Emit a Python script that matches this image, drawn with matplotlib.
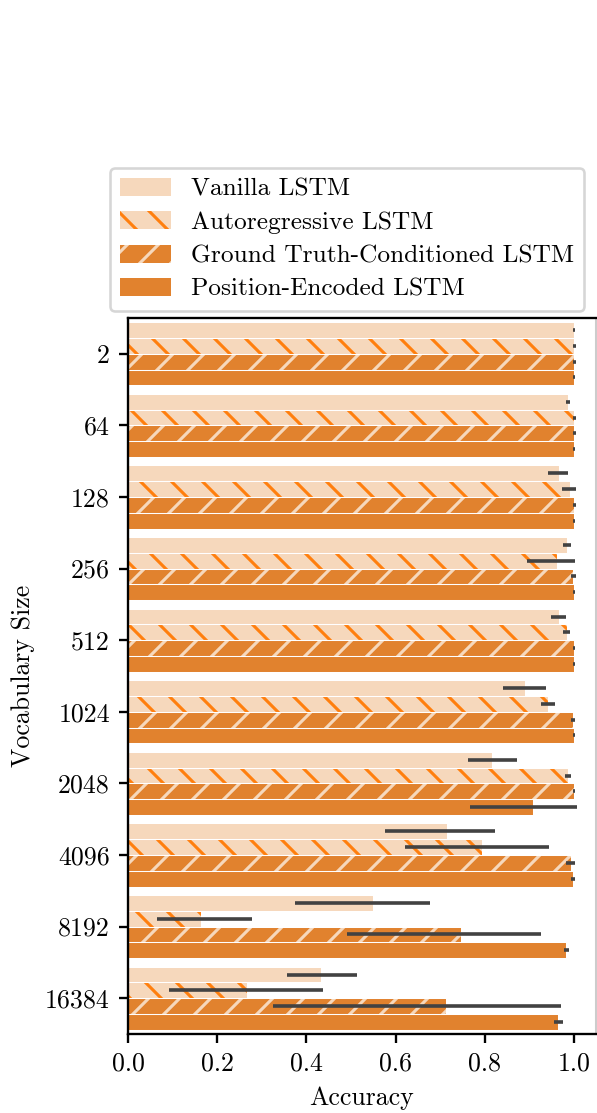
import matplotlib
matplotlib.use("Agg")
import matplotlib.pyplot as plt
import numpy as np

plt.rcParams['font.family'] = 'serif'
plt.rcParams['font.serif'] = ['cmr10']
plt.rcParams['mathtext.fontset'] = 'cm'
plt.rcParams['axes.unicode_minus'] = False
plt.rcParams['axes.formatter.use_mathtext'] = True
plt.rcParams['hatch.linewidth'] = 1.2

vocab = ['2', '64', '128', '256', '512', '1024', '2048', '4096', '8192', '16384']
models = ['Vanilla LSTM', 'Autoregressive LSTM',
          'Ground Truth-Conditioned LSTM', 'Position-Encoded LSTM']

# mean accuracy per model
acc = {
    'Vanilla LSTM':                  [1.0, 0.986, 0.965, 0.983, 0.966, 0.890, 0.815, 0.714, 0.549, 0.433],
    'Autoregressive LSTM':           [1.0, 1.0, 0.991, 0.962, 0.983, 0.941, 0.986, 0.793, 0.164, 0.267],
    'Ground Truth-Conditioned LSTM': [1.0, 1.0, 1.0, 0.998, 0.999, 0.997, 1.0, 0.992, 0.746, 0.713],
    'Position-Encoded LSTM':         [1.0, 0.999, 1.0, 1.0, 1.0, 1.0, 0.907, 0.997, 0.982, 0.963],
}
# confidence interval low / high
ci_lo = {
    'Vanilla LSTM':                  [0.998, 0.981, 0.942, 0.976, 0.948, 0.840, 0.761, 0.575, 0.374, 0.357],
    'Autoregressive LSTM':           [0.998, 0.998, 0.973, 0.895, 0.976, 0.925, 0.979, 0.620, 0.064, 0.091],
    'Ground Truth-Conditioned LSTM': [0.998, 0.998, 0.998, 0.994, 0.997, 0.993, 0.997, 0.982, 0.490, 0.324],
    'Position-Encoded LSTM':         [0.998, 0.997, 0.998, 0.998, 0.998, 0.998, 0.767, 0.994, 0.978, 0.954],
}
ci_hi = {
    'Vanilla LSTM':                  [1.003, 0.991, 0.987, 0.994, 0.981, 0.937, 0.873, 0.823, 0.676, 0.513],
    'Autoregressive LSTM':           [1.004, 1.004, 1.004, 1.002, 0.991, 0.958, 0.993, 0.943, 0.277, 0.438],
    'Ground Truth-Conditioned LSTM': [1.004, 1.004, 1.004, 1.005, 1.003, 1.001, 1.003, 1.002, 0.925, 0.971],
    'Position-Encoded LSTM':         [1.003, 1.003, 1.003, 1.003, 1.003, 1.003, 1.006, 1.002, 0.988, 0.974],
}

peach = '#f6d8bc'
orange = '#e1822e'
face = [peach, peach, orange, orange]
hatch = [None, '\\\\', '//', None]
hatch_col = [peach, '#ff7f0e', peach, orange]

fig = plt.figure(figsize=(597 / 186, 1113 / 186), dpi=186)
ax = fig.add_axes([128 / 597, 1 - 1034 / 1113, 468 / 597, 716 / 1113])

y = np.arange(len(vocab))
h = 0.22
for k, m in enumerate(models):
    pos = y + (k - 1.5) * h
    vals = np.array(acc[m])
    ax.barh(pos, vals, height=h, color=face[k], hatch=hatch[k],
            edgecolor=hatch_col[k], linewidth=0, label=m, zorder=2)
    ax.barh(pos, vals, height=h, fill=False, edgecolor='white',
            linewidth=0.4, zorder=3)
    err = [vals - np.array(ci_lo[m]), np.array(ci_hi[m]) - vals]
    ax.errorbar(vals, pos, xerr=np.clip(err, 0, None), fmt='none',
                ecolor='#424242', elinewidth=1.4, capsize=0, zorder=4)

ax.set_ylim(9.5, -0.5)
ax.set_xlim(0, 1.049)
ax.set_yticks(y)
ax.set_yticklabels(vocab)
ax.set_xticks([0.0, 0.2, 0.4, 0.6, 0.8, 1.0])
ax.set_xticklabels(['0.0', '0.2', '0.4', '0.6', '0.8', '1.0'])
ax.tick_params(labelsize=10, width=0.9)
ax.set_xlabel('Accuracy', fontsize=10)
ax.set_ylabel('Vocabulary Size', fontsize=10)
for s in ['left', 'bottom', 'top']:
    ax.spines[s].set_linewidth(0.9)
    ax.spines[s].set_zorder(5)
ax.spines['right'].set_color('#cccccc')
ax.spines['right'].set_linewidth(0.8)

fig.legend(loc='lower left', bbox_to_anchor=(110 / 597, 1 - 311 / 1113),
           fontsize=9.8, handlelength=2.0, labelspacing=0.42, frameon=True,
           edgecolor='#cccccc', borderaxespad=0)

fig.savefig('out.png', dpi=186)
